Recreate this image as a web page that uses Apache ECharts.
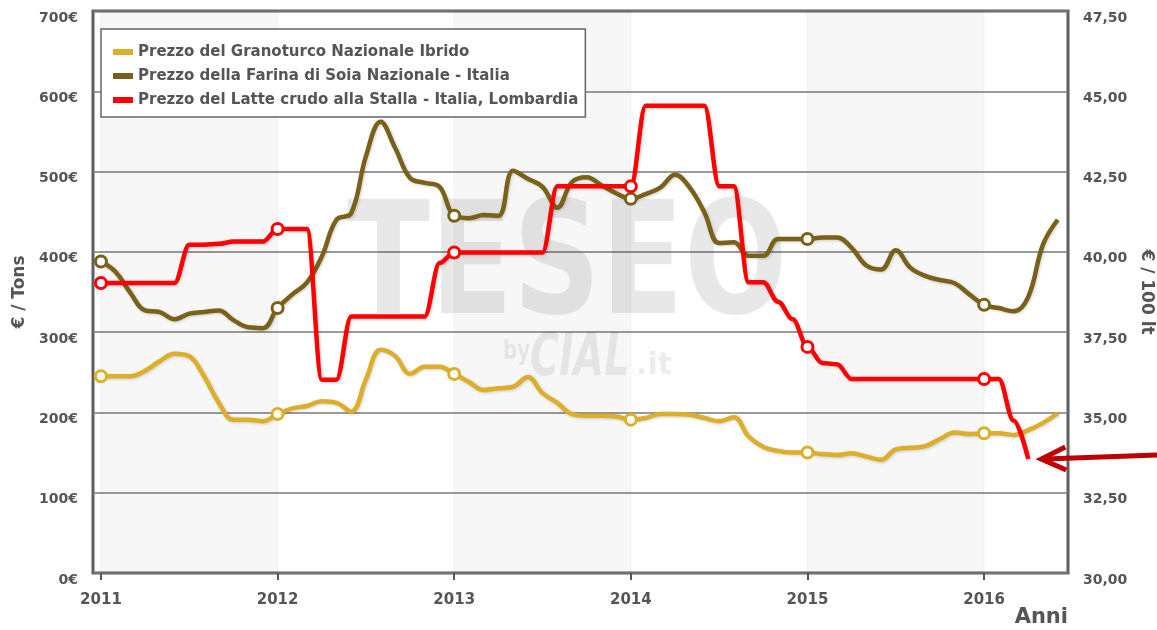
<!DOCTYPE html>
<html>
<head>
<meta charset="utf-8">
<script src="https://cdn.jsdelivr.net/npm/echarts@6/dist/echarts.min.js"></script>
<style>
  html, body { margin: 0; padding: 0; background: #fff; }
  #chart { width: 1157px; height: 630px; }
</style>
</head>
<body>
<div id="chart"></div>
<script>
// serie mensili a partire da gennaio 2011
var startYear = 2011;
var yearTicks = [2011, 2012, 2013, 2014, 2015, 2016];
var grayBands = [[2011, 2012], [2013, 2014], [2015, 2016]];

var seriesNames = [
  'Prezzo del Granoturco Nazionale Ibrido',
  'Prezzo della Farina di Soia Nazionale - Italia',
  'Prezzo del Latte crudo alla Stalla - Italia, Lombardia'
];
var seriesColors = ['#dcae2a', '#7a6119', '#ff0000'];

// €/t
var cornPrices = [
  245, 245, 245, 252, 264, 273, 270, 245, 212, 191, 191, 189,
  198, 205, 208, 214, 212, 201, 241, 278, 270, 248, 257, 257,
  248, 238, 228, 230, 232, 244, 224, 212, 198, 196, 196, 195,
  191, 193, 198, 198, 197, 193, 189, 194, 170, 157, 152, 150,
  150, 148, 147, 149, 145, 141, 154, 156, 158, 167, 175, 173,
  174, 174, 172, 178, 187, 199
];
// €/t
var soyPrices = [
  388, 375, 349, 327, 325, 316, 323, 325, 327, 315, 306, 305,
  330, 347, 362, 394, 440, 448, 519, 562, 529, 492, 486, 481,
  445, 442, 446, 445, 501, 491, 481, 455, 487, 493, 483, 473,
  466, 472, 480, 496, 480, 449, 411, 412, 395, 395, 416, 416,
  416, 418, 418, 405, 383, 378, 402, 380, 370, 365, 361, 347,
  334, 330, 326, 344, 409, 440
];
// €/100 lt
var milkPrices = [
  39.03, 39.03, 39.03, 39.03, 39.03, 39.03, 40.22, 40.22, 40.25, 40.32, 40.32, 40.32,
  40.71, 40.71, 40.71, 36.02, 36.02, 37.99, 37.99, 37.99, 37.99, 37.99, 37.99, 39.65,
  39.98, 39.98, 39.98, 39.98, 39.98, 39.98, 39.98, 42.04, 42.04, 42.04, 42.04, 42.04,
  42.04, 44.55, 44.55, 44.55, 44.55, 44.55, 42.04, 42.04, 39.05, 39.05, 38.45, 37.9,
  37.04, 36.54, 36.5, 36.04, 36.04, 36.04, 36.04, 36.04, 36.04, 36.04, 36.04, 36.04,
  36.04, 36.04, 34.75, 33.55
];

var textColor = '#555';
var fontFamily = 'DejaVu Sans';

function toPoints(values) {
  var points = [];
  for (var i = 0; i < values.length; i++) {
    points.push({
      value: [startYear + i / 12, values[i]],
      // pallino solo a gennaio
      symbol: i % 12 === 0 ? 'circle' : 'none'
    });
  }
  return points;
}

function makeSeries(idx, values, yAxisIndex, smooth, mono) {
  var s = {
    name: seriesNames[idx],
    type: 'line',
    yAxisIndex: yAxisIndex,
    data: toPoints(values),
    smooth: smooth,
    showAllSymbol: true,
    symbolSize: 11,
    color: seriesColors[idx],
    itemStyle: { color: '#fff', borderColor: seriesColors[idx], borderWidth: 3 },
    lineStyle: {
      color: seriesColors[idx], width: 4.5,
      shadowColor: 'rgba(0,0,0,0.18)', shadowBlur: 3, shadowOffsetX: 1, shadowOffsetY: 1
    },
    emphasis: { disabled: true },
    z: 3 + idx
  };
  if (mono) s.smoothMonotone = 'x';
  return s;
}

var bandData = grayBands.map(function (b) {
  return [{ xAxis: b[0] }, { xAxis: b[1] }];
});

var corn = makeSeries(0, cornPrices, 0, 0.4, false);
corn.markArea = {
  silent: true,
  itemStyle: { color: 'rgba(0,0,0,0.03)', borderColor: 'rgba(0,0,0,0.04)', borderWidth: 1 },
  data: bandData
};

var legendData = seriesNames.map(function (name, i) {
  return { name: name, itemStyle: { color: seriesColors[i], borderWidth: 0 } };
});

var option = {
  animation: false,
  backgroundColor: '#fff',
  textStyle: { fontFamily: fontFamily },
  grid: {
    left: 93, right: 89, top: 11, bottom: 57,
    outerBoundsMode: 'none',
    show: true, borderColor: '#5f5f5f', borderWidth: 3, backgroundColor: 'transparent'
  },
  legend: {
    orient: 'vertical',
    left: 101, top: 29,
    padding: [14, 7, 8, 12],
    itemGap: 6,
    itemWidth: 20, itemHeight: 6,
    icon: 'rect',
    backgroundColor: '#fff',
    borderColor: '#666', borderWidth: 1.5,
    selectedMode: false,
    textStyle: { color: textColor, fontSize: 15, fontWeight: 'bold', fontFamily: fontFamily, lineHeight: 18 },
    data: legendData
  },
  xAxis: {
    type: 'value',
    min: 2010.955,
    max: 2016.475,
    axisLine: { show: false },
    splitLine: { show: false },
    axisTick: {
      customValues: yearTicks, length: 7, inside: false,
      lineStyle: { color: '#555', width: 2 }
    },
    axisLabel: {
      customValues: yearTicks, margin: 20,
      color: textColor, fontSize: 15, fontWeight: 'bold', fontFamily: fontFamily,
      formatter: function (v) { return String(Math.round(v)); }
    }
  },
  yAxis: [{
    type: 'value', min: 0, max: 700, interval: 100,
    name: '€ / Tons', nameLocation: 'middle', nameGap: 62, nameRotate: 90,
    nameTextStyle: { color: textColor, fontSize: 17, fontWeight: 'bold', fontFamily: fontFamily },
    axisLine: { show: false }, axisTick: { show: false },
    splitLine: { lineStyle: { color: '#7a7a7a', width: 1.5 } },
    axisLabel: {
      margin: 15, verticalAlign: 'top',
      color: textColor, fontSize: 14, fontWeight: 'bold', fontFamily: fontFamily,
      formatter: function (v) { return v + '€'; }
    }
  }, {
    type: 'value', min: 30, max: 47.5, interval: 2.5, position: 'right',
    name: '€ / 100 lt', nameLocation: 'middle', nameGap: 62, nameRotate: -90,
    nameTextStyle: { color: textColor, fontSize: 17, fontWeight: 'bold', fontFamily: fontFamily },
    axisLine: { show: false }, axisTick: { show: false },
    splitLine: { show: false },
    axisLabel: {
      margin: 15, verticalAlign: 'top',
      color: textColor, fontSize: 14, fontWeight: 'bold', fontFamily: fontFamily,
      formatter: function (v) { return v.toFixed(2).replace('.', ','); }
    }
  }],
  graphic: [
    // filigrana
    {
      id: 'wmTeseo', type: 'text', x: 347, y: 272, z: 1, silent: true, scaleX: 0.78,
      style: { text: 'TESEO', font: 'bold 156px DejaVu Sans', fill: 'rgba(0,0,0,0.09)', verticalAlign: 'middle' }
    },
    {
      id: 'wmBy', type: 'text', x: 503, y: 352, z: 1, silent: true, scaleX: 0.76,
      style: { text: 'by', font: 'bold 26px DejaVu Sans', fill: 'rgba(0,0,0,0.075)', verticalAlign: 'middle' }
    },
    {
      id: 'wmCial', type: 'text', x: 530, y: 360, z: 1, silent: true, scaleX: 0.68,
      style: { text: 'CIAL', font: 'italic bold 58px DejaVu Sans', fill: 'rgba(0,0,0,0.075)', verticalAlign: 'middle' }
    },
    {
      id: 'wmIt', type: 'text', x: 636, y: 366, z: 1, silent: true,
      style: { text: '.it', font: 'bold 30px DejaVu Sans', fill: 'rgba(0,0,0,0.075)', verticalAlign: 'middle' }
    },
    {
      id: 'anni', type: 'text', right: 89, top: 607, silent: true,
      style: { text: 'Anni', font: 'bold 21px DejaVu Sans', fill: textColor }
    }
  ],
  series: [
    corn,
    makeSeries(1, soyPrices, 0, 0.4, false),
    makeSeries(2, milkPrices, 1, 0.35, true)
  ]
};

var chart = echarts.init(document.getElementById('chart'));
chart.setOption(option);

// freccia rossa che indica l'ultimo dato del latte
var lastIdx = milkPrices.length - 1;
var tip = chart.convertToPixel({ xAxisIndex: 0, yAxisIndex: 1 },
  [startYear + lastIdx / 12, milkPrices[lastIdx]]);
var tx = tip[0] + 13, ty = tip[1];
chart.setOption({
  graphic: [{
    id: 'arrowShaft', type: 'line', silent: true, z: 10,
    shape: { x1: tx + 4, y1: ty, x2: 1160, y2: ty - 4 },
    style: { stroke: '#c00000', lineWidth: 5 }
  }, {
    id: 'arrowHead', type: 'polyline', silent: true, z: 10,
    shape: { points: [[tx + 24, ty - 12], [tx, ty], [tx + 25, ty + 11]] },
    style: { stroke: '#c00000', lineWidth: 5, fill: null, lineJoin: 'miter' }
  }]
});
</script>
</body>
</html>
